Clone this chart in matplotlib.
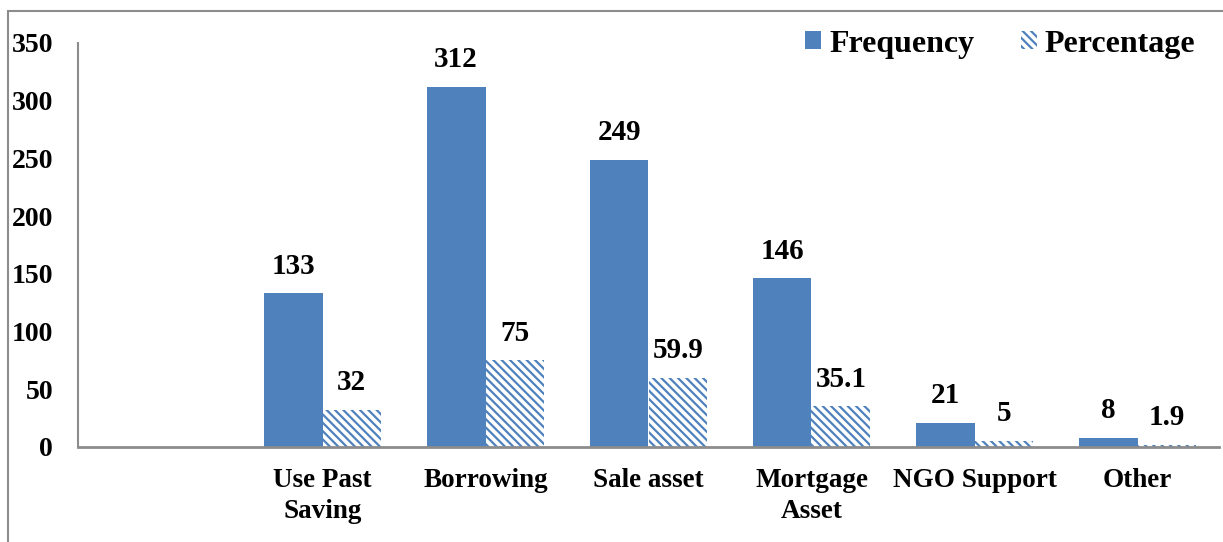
import numpy as np
import matplotlib.pyplot as plt
from matplotlib.patches import Rectangle, Patch

plt.rcParams["font.family"] = ["Liberation Serif", "DejaVu Serif"]
plt.rcParams["font.weight"] = "bold"
plt.rcParams["hatch.linewidth"] = 1.6

# data (first slot is an empty category in the original)
categories = ["", "Use Past\nSaving", "Borrowing", "Sale asset", "Mortgage\nAsset",
              "NGO Support", "Other"]
frequency = [np.nan, 133, 312, 249, 146, 21, 8]
percentage = [np.nan, 32, 75, 59.9, 35.1, 5, 1.9]
freq_labels = ["", "133", "312", "249", "146", "21", "8"]
pct_labels = ["", "32", "75", "59.9", "35.1", "5", "1.9"]

BLUE = "#4F81BD"
GRAY = "#8c8c8c"
HATCH = "\\\\\\\\"

W, H = 1223, 542
fig = plt.figure(figsize=(W / 100, H / 100), dpi=100)
ax = fig.add_axes([78 / W, 1 - 447 / H, (1219 - 78) / W, (447 - 43) / H])

x = np.arange(len(categories))
bw = 0.36
ax.bar(x - bw / 2, frequency, bw, color=BLUE, linewidth=0, label="Frequency")
ax.bar(x + bw / 2, percentage, bw, facecolor="white", edgecolor=BLUE,
       hatch=HATCH, linewidth=0, label="Percentage")

for xi, f, p, fl, pl in zip(x, frequency, percentage, freq_labels, pct_labels):
    if not fl:
        continue
    ax.annotate(fl, (xi - bw / 2, f), xytext=(0, 10), textcoords="offset points",
                ha="center", va="bottom", fontsize=21, fontweight="bold")
    ax.annotate(pl, (xi + bw / 2, p), xytext=(0, 10), textcoords="offset points",
                ha="center", va="bottom", fontsize=21, fontweight="bold")

ax.set_xlim(-0.5, len(categories) - 0.5)
ax.set_ylim(0, 350)
ax.set_yticks(np.arange(0, 351, 50))
ax.set_xticks(x)
ax.set_xticklabels(categories, fontsize=19.5, fontweight="bold", linespacing=1.3)
ax.tick_params(axis="y", length=0, pad=18, labelsize=20)
ax.tick_params(axis="x", length=0, pad=15)
for lab in ax.get_yticklabels():
    lab.set_fontweight("bold")

for side in ["top", "right"]:
    ax.spines[side].set_visible(False)
ax.spines["left"].set_color(GRAY)
ax.spines["bottom"].set_color(GRAY)
ax.spines["left"].set_linewidth(1.5)
ax.spines["bottom"].set_linewidth(2)

handles = [Patch(facecolor=BLUE, linewidth=0),
           Patch(facecolor="white", edgecolor=BLUE, hatch=HATCH, linewidth=0)]
fig.legend(handles, ["Frequency", "Percentage"], loc="center right",
           bbox_to_anchor=(1224 / W, 1 - 44 / H), ncol=2, frameon=False,
           prop={"size": 23, "weight": "bold"}, handlelength=0.5, handleheight=0.5,
           handletextpad=0.25, columnspacing=1.45)

# outer frame of the original figure
fig.patches.append(Rectangle((8 / W, -0.1), 1.2, 1.1 - 11 / H, transform=fig.transFigure,
                             fill=False, edgecolor=GRAY, linewidth=1.5))

fig.savefig("out.png", dpi=100)
